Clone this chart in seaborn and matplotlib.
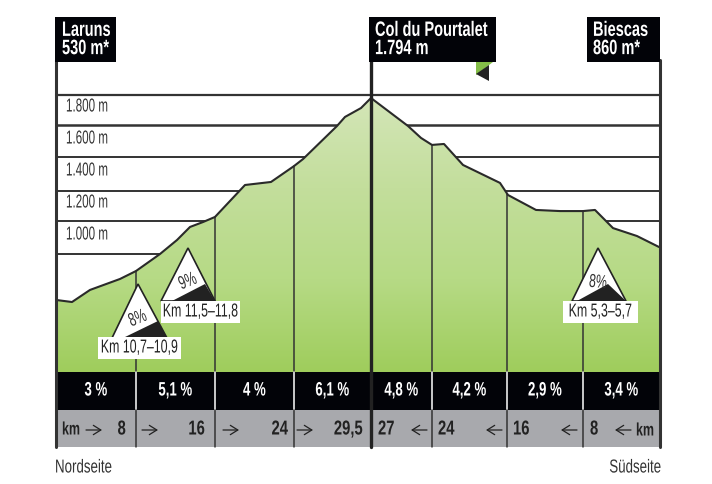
import numpy as np
import matplotlib
matplotlib.use("Agg")
import matplotlib.pyplot as plt
from matplotlib.patches import Polygon, Rectangle
from matplotlib.colors import LinearSegmentedColormap
from matplotlib.patheffects import AbstractPathEffect
from matplotlib.transforms import Affine2D
import seaborn as sns
import pandas as pd

sns.set_theme(style="white")
plt.rcParams['font.family'] = ['Liberation Sans', 'DejaVu Sans']

# data
profile_x = [56, 72, 90, 120, 136, 160, 177, 190, 203, 215, 245, 271, 294, 303, 337, 345, 361, 371,
             408, 421, 432, 444, 463, 500, 508, 536, 560, 583, 595, 613, 637, 659]
profile_elev = [511, 498, 574, 643, 693, 800, 888, 970, 1001, 1033, 1234, 1253, 1353, 1397, 1605, 1662, 1718, 1781,
                1605, 1530, 1486, 1492, 1360, 1247, 1171, 1077, 1070, 1070, 1077, 963, 913, 844]
grid_levels = [1800, 1611, 1410, 1196, 1008, 800]
grid_labels = ["1.800 m", "1.600 m", "1.400 m", "1.200 m", "1.000 m"]
dividers = [136, 215, 294, 432, 507, 583]
grades = ["3 %", "5,1 %", "4 %", "6,1 %", "4,8 %", "4,2 %", "2,9 %", "3,4 %"]
edges = [56, 136, 215, 294, 371, 432, 507, 583, 660]
km_north = ["8", "16", "24", "29,5"]
km_south = ["27", "24", "16", "8"]
places = ["Laruns\n530 m*", "Col du Pourtalet\n1.794 m", "Biescas\n860 m*"]
ramps = ["Km 10,7–10,9", "Km 11,5–11,8", "Km 5,3–5,7"]
ramp_pct = ["8%", "9%", "8%"]

class Squeeze(AbstractPathEffect):
    """Draw text narrower, as the reference's condensed face."""
    def __init__(self, sx, frac=0.0):
        super().__init__()
        self.sx, self.frac = sx, frac
    def draw_path(self, renderer, gc, tpath, affine, rgbFace=None):
        w = tpath.vertices[:, 0].max() if len(tpath.vertices) else 0
        t = Affine2D().scale(self.sx, 1).translate((1 - self.sx) * w * self.frac, 0) + affine
        renderer.draw_path(gc, tpath, t, rgbFace)

W, H = 712, 484
fig = plt.figure(figsize=(W/100, H/100), dpi=100)
ax = fig.add_axes([0, 0, 1, 1])
PX = 0.159
ax.axis("off")

ov = fig.add_axes([0, 0, 1, 1], zorder=5)
ov.set_xlim(0, W); ov.set_ylim(H, 0); ov.axis("off"); ov.patch.set_alpha(0)

def T(x, y, s, sx, size, color="#333333", ha="left", weight="normal", rot=0, z=7, ls=1.0):
    frac = {"left": 0.0, "center": 0.5, "right": 1.0}[ha]
    t = ov.text(x, y, s, fontsize=size, color=color, ha=ha, va="center", fontweight=weight,
                rotation=rot, rotation_mode="anchor", zorder=z, linespacing=ls)
    t.set_path_effects([Squeeze(sx, frac)])
    return t

BLK = "#020308"
base_elev = 1800 - (372 - 95) / PX

for lv, lw in zip(grid_levels, [1.6, 1.8, 1.4, 1.4, 1.4, 1.4]):
    ax.plot([56, 660], [lv, lv], color="#333333", lw=lw, zorder=1)

cmap = LinearSegmentedColormap.from_list("g", ["#d4e6b8", "#c3de9c", "#b6da85", "#9fcd5c"])
grad = np.linspace(0, 1, 256).reshape(-1, 1)
im = ax.imshow(grad, cmap=cmap, extent=[56, 660, base_elev, 1800], aspect="auto", zorder=2, origin="upper")
poly = Polygon(list(zip(profile_x, profile_elev)) + [(659, base_elev), (56, base_elev)], closed=True,
               transform=ax.transData, facecolor="none", edgecolor="none")
ax.add_patch(poly)
im.set_clip_path(poly)

prof = pd.DataFrame({"x": profile_x, "elev": profile_elev})
for d in dividers:
    ax.plot([d, d], [base_elev, np.interp(d, profile_x, profile_elev)], color="#333333", lw=1.1, zorder=3)
sns.lineplot(data=prof, x="x", y="elev", ax=ax, color="#2a2a2a", lw=1.5, sort=False, zorder=4, legend=False)
ax.set_xlabel(""); ax.set_ylabel("")
ax.set_xlim(0, W)
ax.set_ylim(1800 - (H - 95) / PX, 1800 + 95 / PX)

# bands
ov.add_patch(Rectangle((55, 372), 606, 38, fc=BLK, ec="none", zorder=1))
ov.add_patch(Rectangle((55, 410), 606, 37, fc="#a8a9ad", ec="none", zorder=1))
for d in dividers:
    ov.plot([d, d], [372, 410], color="white", lw=1.1, zorder=2)
    ov.plot([d, d], [410, 447], color="#333333", lw=1.1, zorder=2)
ov.plot([371, 371], [60, 447], color="#222222", lw=2.4, zorder=3)
ov.plot([56, 56], [60, 447], color="#333333", lw=2.2, zorder=3)
ov.plot([660, 660], [60, 447], color="#333333", lw=2.2, zorder=3)

# grades
for i, g in enumerate(grades):
    T((edges[i] + edges[i + 1]) / 2, 391, g, 0.68, 14, color="white", ha="center", weight="bold", z=4)

# km row
GR = "#222222"
T(62, 430, "km", 0.69, 13, color=GR, weight="bold", z=4)
T(636, 431, "km", 0.69, 13, color=GR, weight="bold", z=4)
for x, s in zip([126, 205, 288, 363], km_north):
    T(x, 429, s, 0.735, 14.5, color=GR, ha="right", weight="bold", z=4)
for x, s in zip([378, 438, 513, 590], km_south):
    T(x, 429, s, 0.735, 14.5, color=GR, weight="bold", z=4)
def arrow(x0, x1):
    ov.annotate("", xy=(x1, 430), xytext=(x0, 430), zorder=4,
                arrowprops=dict(arrowstyle="->,head_width=0.28,head_length=0.45", color=GR, lw=0.9, shrinkA=0, shrinkB=0))
for x0 in [86, 142, 223, 297]:
    arrow(x0, x0 + 16)
for x0 in [427, 502, 577, 631]:
    arrow(x0, x0 - 16)

# top labels
for (x0, x1, tx), s in zip([(55, 116, 62), (369, 496, 375), (587, 660, 593)], places):
    ov.add_patch(Rectangle((x0, 17), x1 - x0, 45, fc=BLK, ec="none", zorder=5))
    T(tx, 39.5, s, 0.70, 15, color="white", weight="bold", z=6, ls=0.95)

# small flag
ov.add_patch(Polygon([(476, 62), (493, 62), (476, 75)], fc="#84bd48", ec="none", zorder=4))
ov.add_patch(Polygon([(489, 65), (489, 81), (476, 74)], fc="#222222", ec="none", zorder=4))

for lab, p in zip(grid_labels, [107, 139, 171, 203, 235]):
    T(66, p, lab, 0.62, 13.5, z=4)

T(55, 468, "Nordseite", 0.71, 13.5)
T(661, 468, "Südseite", 0.71, 13.5, ha="right")

# ramp markers
tris = [((138, 284), (112, 338), (167, 338), (123, 338), (158, 321), (138, 319), 22),
        ((188, 248), (161, 301), (215, 301), (172, 301), (205, 284), (188, 282), 22),
        ((598, 248), (572, 301), (626, 301), (577, 301), (608, 284), (598, 283), -5)]
boxes = [(98, 337, 83, 22), (161, 301, 79, 22), (563, 301, 75, 22)]
for (ap, l, r, bl, br, tc, rot), (bx, by, bw, bh), lab, pct in zip(tris, boxes, ramps, ramp_pct):
    ov.add_patch(Polygon([ap, l, r], fc="white", ec="#222222", lw=1.2, zorder=5))
    ov.add_patch(Polygon([bl, br, r], fc="#222222", ec="none", zorder=6))
    T(tc[0], tc[1], pct, 0.66, 13.5, rot=rot, ha="center", z=7)
    ov.add_patch(Rectangle((bx, by), bw, bh, fc="white", ec="none", zorder=6))
    T(bx + bw / 2, by + bh / 2, lab, 0.66, 13.5, color="#222222", ha="center", z=7)

fig.savefig("out.png", dpi=100)
